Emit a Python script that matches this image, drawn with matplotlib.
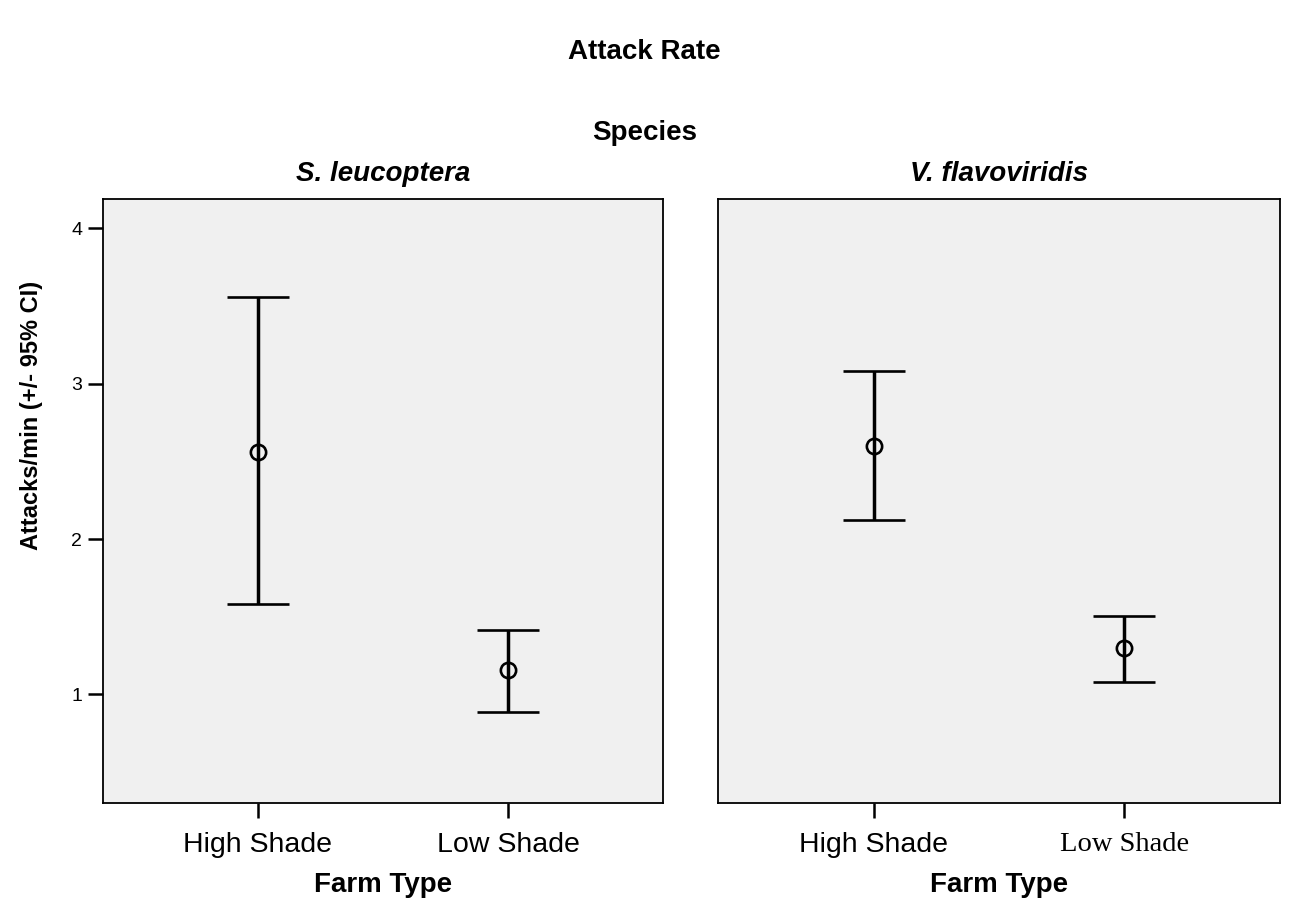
import matplotlib.pyplot as plt

plt.rcParams['font.family'] = ['Liberation Sans', 'DejaVu Sans']

species = ['S. leucoptera', 'V. flavoviridis']
farm_types = ['High Shade', 'Low Shade']

# mean attacks/min and 95% CI bounds, per species (High Shade, Low Shade)
means = [[2.56, 1.155], [2.60, 1.295]]
ci_low = [[1.58, 0.885], [2.125, 1.08]]
ci_high = [[3.56, 1.415], [3.08, 1.505]]

fig = plt.figure(figsize=(12.89, 9.0), dpi=100)
axes = [fig.add_axes([0.0799, 0.1078, 0.4344, 0.6711]),
        fig.add_axes([0.557, 0.1078, 0.436, 0.6711])]

x = [0, 1]
for i, ax in enumerate(axes):
    ax.set_facecolor('#f0f0f0')
    m = means[i]
    err = [[m[j] - ci_low[i][j] for j in x], [ci_high[i][j] - m[j] for j in x]]
    ax.errorbar(x, m, yerr=err, fmt='o', color='black', mfc='none', mec='black',
                ms=11, mew=1.9, elinewidth=2.5, capsize=22, capthick=2.5)
    ax.set_xlim(-0.62, 1.62)
    ax.set_ylim(0.3, 4.19)
    ax.set_xticks(x)
    ax.set_xticklabels(farm_types, fontsize=20.5)
    ax.tick_params(axis='x', direction='out', length=11, width=1.8, pad=10)
    ax.set_xlabel('Farm Type', fontsize=20, fontweight='bold', labelpad=10)
    ax.set_title(species[i], fontsize=20, fontweight='bold', style='italic', pad=13)
    for s in ax.spines.values():
        s.set_linewidth(1.3)
    if i == 0:
        ax.set_yticks([1, 2, 3, 4])
        ax.tick_params(axis='y', direction='out', length=11, width=1.8, labelsize=14, pad=4)
        ax.set_ylabel('Attacks/min (+/- 95% CI)', fontsize=17, fontweight='bold')
        ax.yaxis.set_label_coords(-0.107, 0.642)
    else:
        ax.set_yticks([])

# the second "Low Shade" label is drawn in a serif face in the original
axes[1].get_xticklabels()[1].set_family('Liberation Serif')

fig.text(0.5, 0.942, 'Attack Rate', ha='center', va='center', fontsize=20, fontweight='bold')
fig.text(0.5, 0.852, 'Species', ha='center', va='center', fontsize=20, fontweight='bold')

fig.savefig('out.png', dpi=100)
